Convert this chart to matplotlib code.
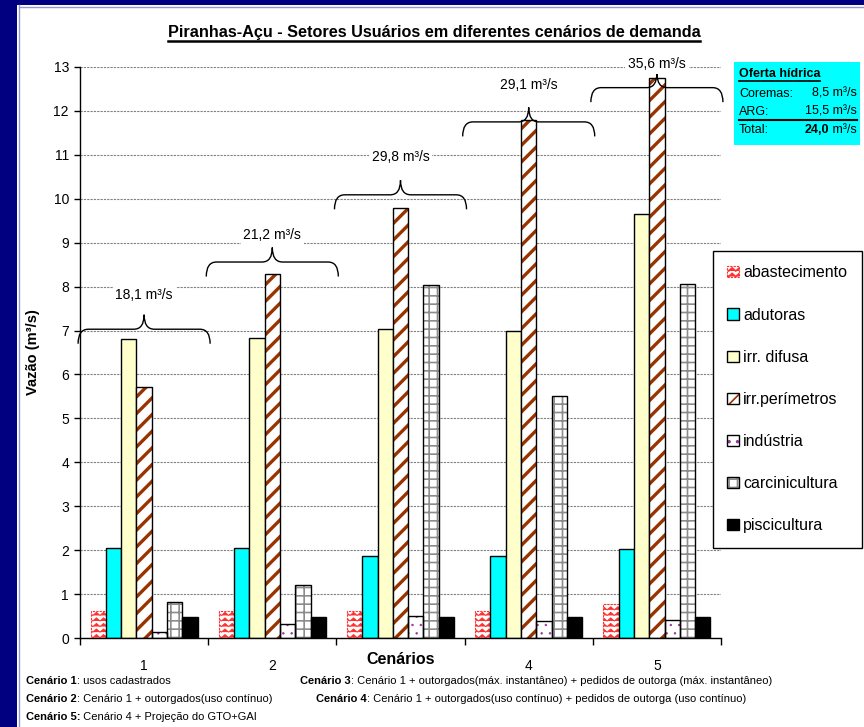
import warnings
warnings.filterwarnings('ignore')
import matplotlib
matplotlib.use('Agg')
import matplotlib.pyplot as plt
import numpy as np
from matplotlib.path import Path
from matplotlib.patches import PathPatch, Rectangle
from matplotlib.lines import Line2D
from matplotlib.legend_handler import HandlerTuple
import matplotlib.hatch as mhatch
import matplotlib.transforms as mtrans

# ---------------- data ----------------
categories = ['1', '2', '3', '4', '5']
series_names = ['abastecimento', 'adutoras', 'irr. difusa', 'irr.perímetros',
                'indústria', 'carcinicultura', 'piscicultura']
abastecimento = [0.61, 0.61, 0.61, 0.61, 0.77]
adutoras = [2.06, 2.06, 1.87, 1.87, 2.03]
irr_difusa = [6.80, 6.82, 7.03, 7.00, 9.65]
irr_perimetros = [5.71, 8.29, 9.79, 11.79, 12.74]
industria = [0.13, 0.33, 0.51, 0.39, 0.41]
carcinicultura = [0.82, 1.21, 8.04, 5.52, 8.05]
piscicultura = [0.47, 0.47, 0.47, 0.47, 0.47]
totals = [18.1, 21.2, 29.8, 29.1, 35.6]
# brace annotation levels (y of brace line, y of label)
brace_levels = [7.03, 8.56, 10.09, 11.75, 12.53]
brace_label_levels = [7.80, 9.18, 10.94, 12.59, 13.07]

oferta_labels = ['Coremas:', 'ARG:', 'Total:']
oferta_values = ['8,5', '15,5', '24,0']

footnotes_left = [('Cenário 1', ': usos cadastrados'),
                  ('Cenário 2', ': Cenário 1 + outorgados(uso contínuo)'),
                  ('Cenário 5:', ' Cenário 4 + Projeção do GTO+GAI')]
footnotes_right = [('Cenário 3', ': Cenário 1 + outorgados(máx. instantâneo) + pedidos de outorga (máx. instantâneo)'),
                   ('Cenário 4', ': Cenário 1 + outorgados(uso contínuo) + pedidos de outorga (uso contínuo)')]


# ---------------- custom zigzag hatch ----------------
class ZigZagHatch(mhatch.HatchPatternBase):
    def __init__(self, hatch, density):
        self.num_rows = int(hatch.count('z') * density)
        self.teeth = max(int(self.num_rows * 0.8), 1)
        self.num_vertices = self.num_rows * (2 * self.teeth + 1)

    def set_vertices_and_codes(self, vertices, codes):
        steps, stepsize = np.linspace(0, 1, self.num_rows, False, retstep=True)
        steps += stepsize / 2
        amp = stepsize * 0.28
        n = 2 * self.teeth + 1
        xs = np.linspace(0, 1, n)
        offs = np.where(np.arange(n) % 2 == 0, -amp, amp)
        for i, s in enumerate(steps):
            vertices[i * n:(i + 1) * n, 0] = xs
            vertices[i * n:(i + 1) * n, 1] = s + offs
            codes[i * n] = Path.MOVETO
            codes[i * n + 1:(i + 1) * n] = Path.LINETO


mhatch._hatch_types.append(ZigZagHatch)

plt.rcParams['font.family'] = ['Liberation Sans', 'DejaVu Sans']

W, H = 864, 727
fig = plt.figure(figsize=(W / 100, H / 100), dpi=100, facecolor='white')


def fx(px):
    return px / W


def fy(py):
    return 1 - py / H


# border
fig.patches.append(Rectangle((0, 0), fx(17), 1, transform=fig.transFigure,
                             facecolor='#000080', edgecolor='none', zorder=-5))
fig.patches.append(Rectangle((0, fy(5)), 1, 5 / H, transform=fig.transFigure,
                             facecolor='#000080', edgecolor='none', zorder=-5))
fig.lines.append(Line2D([fx(18.5), fx(18.5)], [0, fy(5)], transform=fig.transFigure,
                        color='#9999cc', lw=1))
fig.lines.append(Line2D([fx(18.5), 1], [fy(6.5), fy(6.5)], transform=fig.transFigure,
                        color='#9999cc', lw=1))

ax = fig.add_axes([fx(80), fy(638), (721 - 80) / W, (638 - 67) / H])
ax.set_facecolor('white')

n_cat = len(categories)
centers = np.arange(1, n_cat + 1)
n_ser = len(series_names)
bw = 0.1194
offsets = (np.arange(n_ser) - (n_ser - 1) / 2) * bw

values = [abastecimento, adutoras, irr_difusa, irr_perimetros, industria,
          carcinicultura, piscicultura]


def hbar(k, hatch, hcolor, hlw, face='white', edge='black', edge_ls='-', edge_lw=1.0,
         separate_edge=True):
    x = centers + offsets[k]
    b1 = ax.bar(x, values[k], bw, facecolor=face, edgecolor=hcolor, hatch=hatch,
                linewidth=0 if separate_edge else edge_lw, linestyle=edge_ls, zorder=2)
    for p in b1:
        if hasattr(p, 'set_hatch_linewidth'):
            p.set_hatch_linewidth(hlw)
    handle = b1
    if separate_edge:
        b2 = ax.bar(x, values[k], bw, fill=False, edgecolor=edge, linewidth=edge_lw,
                    linestyle=edge_ls, zorder=3)
        handle = (b1, b2)
    return handle


handles = []
plt.rcParams['hatch.linewidth'] = 0.7
handles.append(hbar(0, 'zzz', '#FF3030', 0.7, edge='#FF3030', edge_ls=(0, (2, 1)),
                    edge_lw=0.8, separate_edge=False))
handles.append(ax.bar(centers + offsets[1], adutoras, bw, facecolor='#00FFFF',
                      edgecolor='black', linewidth=1.0, zorder=2))
handles.append(ax.bar(centers + offsets[2], irr_difusa, bw, facecolor='#FFFFCC',
                      edgecolor='black', linewidth=1.0, zorder=2))
plt.rcParams['hatch.linewidth'] = 2.4
handles.append(hbar(3, '//', '#993300', 2.4))
plt.rcParams['hatch.linewidth'] = 0.5
handles.append(hbar(4, '..', '#993399', 0.5))
plt.rcParams['hatch.linewidth'] = 1.2
handles.append(hbar(5, '++', '#8c8c8c', 1.2))
handles.append(ax.bar(centers + offsets[6], piscicultura, bw, facecolor='black',
                      edgecolor='black', linewidth=1.0, zorder=2))

# axes styling
ax.set_xlim(0.5, n_cat + 0.5)
ax.set_ylim(0, 13)
ax.set_yticks(np.arange(0, 14))
ax.yaxis.grid(True, color='#808080', lw=0.8, ls=(0, (2, 1)))
ax.set_axisbelow(True)
for s in ['top', 'right']:
    ax.spines[s].set_visible(False)
ax.spines['left'].set_linewidth(1.0)
ax.spines['bottom'].set_linewidth(1.0)
ax.tick_params(axis='y', direction='out', length=4, width=1, labelsize=10, pad=4)
ax.set_xticks(np.arange(0.5, n_cat + 1.0, 1.0))
ax.set_xticklabels([])
ax.tick_params(axis='x', which='major', direction='out', length=5, width=1)
ax.set_xticks(centers, minor=True)
ax.set_xticklabels([c if c != '3' else '' for c in categories], minor=True)
ax.tick_params(axis='x', which='minor', length=0, labelsize=10, pad=15)

ax.text(3, fy(660), 'Cenários', transform=mtrans.blended_transform_factory(ax.transData, fig.transFigure),
        ha='center', va='center', fontsize=11.5, fontweight='bold')
fig.text(fx(33), fy(352), 'Vazão (m³/s)', rotation=90, ha='center', va='center',
         fontsize=10.5, fontweight='bold')


# braces
def brace(x0, x1, y, h=0.33, r=0.08):
    xm = (x0 + x1) / 2
    codes = [Path.MOVETO, Path.CURVE3, Path.CURVE3, Path.LINETO, Path.CURVE3, Path.CURVE3,
             Path.MOVETO, Path.CURVE3, Path.CURVE3, Path.LINETO, Path.CURVE3, Path.CURVE3]
    verts = [(x0, y - h), (x0, y), (x0 + r, y), (xm - r, y), (xm, y), (xm, y + h),
             (xm, y + h), (xm, y), (xm + r, y), (x1 - r, y), (x1, y), (x1, y - h)]
    return PathPatch(Path(verts, codes), fill=False, edgecolor='black', lw=1.0,
                     zorder=5, clip_on=False)


for i, c in enumerate(centers):
    ax.add_patch(brace(c - 0.515, c + 0.515, brace_levels[i]))
    ax.text(c, brace_label_levels[i], f'{totals[i]:.1f}'.replace('.', ',') + ' m³/s',
            ha='center', va='center', fontsize=10, zorder=6, clip_on=False,
            bbox=dict(facecolor='white', edgecolor='none', pad=2))

# title
title = fig.text(fx(434), fy(32), 'Piranhas-Açu - Setores Usuários em diferentes cenários de demanda',
                 ha='center', va='center', fontsize=11.7, fontweight='bold')

# legend
leg = fig.legend(handles, series_names, loc='upper left',
                 bbox_to_anchor=(fx(713), fy(251)), bbox_transform=fig.transFigure,
                 borderaxespad=0, frameon=True, fancybox=False, framealpha=1,
                 edgecolor='black', borderpad=0.9, labelspacing=1.7,
                 handlelength=0.7, handleheight=0.7, handletextpad=0.3,
                 fontsize=11.5, handler_map={tuple: HandlerTuple(ndivide=1)})
leg.get_frame().set_linewidth(1.0)

# oferta hidrica box
fig.patches.append(Rectangle((fx(734), fy(145)), (860 - 734) / W, (145 - 62) / H,
                             transform=fig.transFigure, facecolor='#00FFFF',
                             edgecolor='none', zorder=1))
of_title = fig.text(fx(739), fy(74), 'Oferta hídrica', ha='left', va='center',
                    fontsize=9, fontweight='bold', zorder=2)
line_y = [94, 112, 130]
unit_texts = []
for lab, val, yy in zip(oferta_labels, oferta_values, line_y):
    fig.text(fx(739), fy(yy), lab, ha='left', va='center', fontsize=9, zorder=2)
    if lab == 'Total:':
        u = fig.text(fx(857), fy(yy), ' m³/s', ha='right', va='center', fontsize=9, zorder=2)
        unit_texts.append((u, val, yy))
    else:
        fig.text(fx(857), fy(yy), f'{val} m³/s', ha='right', va='center', fontsize=9, zorder=2)

# footnotes
foot_y = [681, 699, 717]
bold_parts = []
for (b, rest), yy in zip(footnotes_left, foot_y):
    t = fig.text(fx(26), fy(yy), b, ha='left', va='center', fontsize=8, fontweight='bold')
    bold_parts.append((t, rest))
for (b, rest), yy, xx in zip(footnotes_right, foot_y[:2], [300, 316]):
    t = fig.text(fx(xx), fy(yy), b, ha='left', va='center', fontsize=8, fontweight='bold')
    bold_parts.append((t, rest))

fig.canvas.draw()
r = fig.canvas.get_renderer()
inv = fig.transFigure.inverted()
for t, rest in bold_parts:
    bb = t.get_window_extent(r)
    x1 = inv.transform((bb.x1, bb.y0))[0]
    fig.text(x1, t.get_position()[1], rest, ha='left', va='center', fontsize=8)
for u, val, yy in unit_texts:
    bb = u.get_window_extent(r)
    x0 = inv.transform((bb.x0, bb.y0))[0]
    fig.text(x0, fy(yy), val, ha='right', va='center', fontsize=9, fontweight='bold', zorder=2)


def underline(t, lw, gap=1.5):
    bb = t.get_window_extent(r)
    a = inv.transform((bb.x0, bb.y0 - gap))
    b = inv.transform((bb.x1, bb.y0 - gap))
    fig.lines.append(Line2D([a[0], b[0]], [a[1], a[1]], transform=fig.transFigure,
                            color='black', lw=lw, zorder=3))


underline(title, 1.8, gap=1.0)
underline(of_title, 1.2, gap=0.5)
fig.lines.append(Line2D([fx(739), fx(857)], [fy(120), fy(120)], transform=fig.transFigure,
                        color='black', lw=1.5, zorder=3))

fig.savefig('out.png', dpi=100, facecolor='white')
